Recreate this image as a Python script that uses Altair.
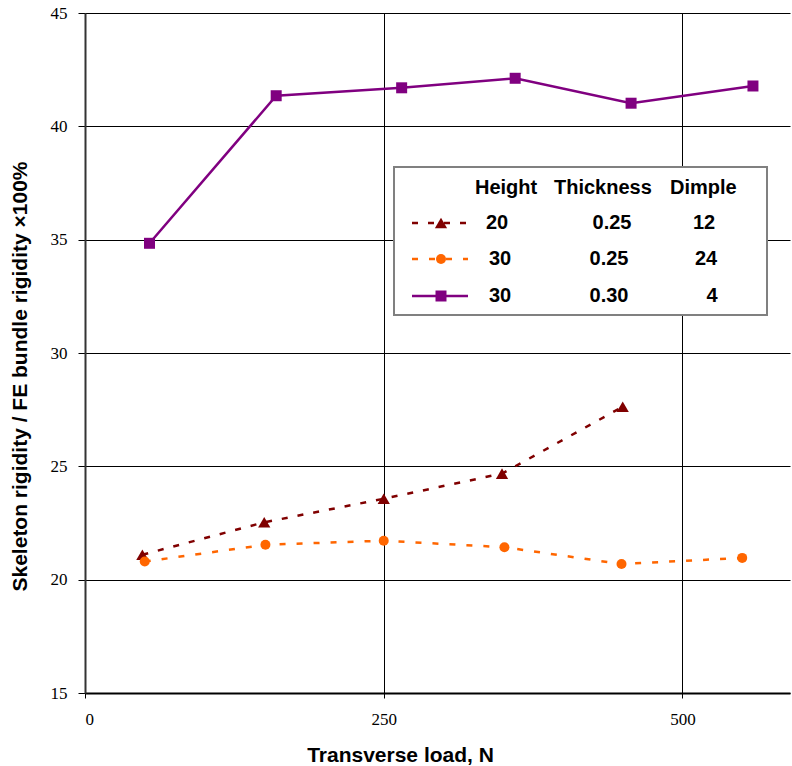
import altair as alt
import pandas as pd

# ---- data ----
series_names = ["20 / 0.25 / 12", "30 / 0.25 / 24", "30 / 0.30 / 4"]
tri_x = [48, 150, 250, 349, 450]
tri_y = [21.1, 22.53, 23.57, 24.68, 27.63]
cir_x = [50, 151, 250, 351, 449, 550]
cir_y = [20.8, 21.54, 21.72, 21.43, 20.69, 20.96]
sq_x = [54, 160, 265, 360, 457, 559]
sq_y = [34.84, 41.35, 41.7, 42.12, 41.02, 41.78]

legend_header = ["Height", "Thickness", "Dimple"]
legend_rows = [["20", "0.25", "12"], ["30", "0.25", "24"], ["30", "0.30", "4"]]

x_ticks = [0, 250, 500]
y_ticks = [15, 20, 25, 30, 35, 40, 45]

colors = ["#800000", "#FF6600", "#800080"]
shapes = ["triangle-up", "circle", "square"]
sizes = [150, 100, 121]
dashes = [[6, 10], [6, 11], None]

W, H = 705, 680
PL, PT = 85, 13

xs = alt.Scale(domain=[0, 590], nice=False, zero=False)
ys = alt.Scale(domain=[15, 45], nice=False, zero=False)

base_x = alt.X("x:Q", scale=xs, axis=alt.Axis(
    values=x_ticks, title="Transverse load, N", grid=True, gridColor="black",
    gridWidth=1, domainColor="black", domainWidth=2, tickColor="black",
    tickSize=5, labelFont="Liberation Serif", labelFontSize=17, labelColor="black",
    labelPadding=13, titleFont="Liberation Sans", titleFontSize=21,
    titleFontWeight="bold", titleColor="black", titleX=315, titleY=68,
    titleBaseline="alphabetic", titleAlign="center", titleAnchor="start"))
base_y = alt.Y("y:Q", scale=ys, axis=alt.Axis(
    values=y_ticks, title="Skeleton rigidity / FE bundle rigidity \u00d7100%",
    grid=True, gridColor="black", gridWidth=1, domainColor="#333333",
    domainWidth=2, tickColor="black", tickSize=7, labelFont="Liberation Serif",
    labelFontSize=17, labelColor="black", labelPadding=11,
    titleFont="Liberation Sans", titleFontSize=21, titleFontWeight="bold",
    titleColor="black", titleX=-65, titleY=363, titleAngle=-90,
    titleBaseline="middle", titleAlign="center", titleAnchor="start"))

data_sets = [(tri_x, tri_y), (cir_x, cir_y), (sq_x, sq_y)]
layers = []
for i, (xv, yv) in enumerate(data_sets):
    df = pd.DataFrame({"x": xv, "y": yv})
    lk = dict(color=colors[i], strokeWidth=2.5)
    if dashes[i]:
        lk["strokeDash"] = dashes[i]
    layers.append(alt.Chart(df).mark_line(**lk).encode(x=base_x, y=base_y))
    layers.append(alt.Chart(df).mark_point(
        shape=shapes[i], filled=True, size=sizes[i], color=colors[i], opacity=1
    ).encode(x=base_x, y=base_y))

# ---- legend box ----
one = pd.DataFrame({"a": [0]})
box = alt.Chart(one).mark_rect(fill="white", stroke="#808080", strokeWidth=2).encode(
    x=alt.value(309), x2=alt.value(682), y=alt.value(154), y2=alt.value(302))
layers.append(box)

row_y = [210, 246, 283]
for i in range(3):
    rk = dict(color=colors[i], strokeWidth=2.5)
    if dashes[i]:
        rk["strokeDash"] = dashes[i]
    layers.append(alt.Chart(one).mark_rule(**rk).encode(
        x=alt.value(327), x2=alt.value(383), y=alt.value(row_y[i])))
    layers.append(alt.Chart(one).mark_point(
        shape=shapes[i], filled=True, size=sizes[i], color=colors[i], opacity=1
    ).encode(x=alt.value(356), y=alt.value(row_y[i])))

hdr_x = [390, 469, 585]
for t, px in zip(legend_header, hdr_x):
    layers.append(alt.Chart(one).mark_text(
        text=t, font="Liberation Sans", fontSize=20, fontWeight="bold", align="left",
        baseline="middle", color="black").encode(x=alt.value(px), y=alt.value(175)))

col_x = [[412, 527, 619], [415, 524, 621], [415, 524, 627]]
for r in range(3):
    for c in range(3):
        layers.append(alt.Chart(one).mark_text(
            text=legend_rows[r][c], font="Liberation Sans", fontSize=20,
            fontWeight="bold", align="center", baseline="middle", color="black"
        ).encode(x=alt.value(col_x[r][c]), y=alt.value(row_y[r])))

chart = alt.layer(*layers).properties(
    width=W, height=H,
    autosize=alt.AutoSizeParams(type="none"),
    padding={"left": PL, "top": PT, "right": 2, "bottom": 73},
    background="white",
).configure_view(stroke=None)

chart.save("out.html", embed_options={"renderer": "svg", "actions": False})
